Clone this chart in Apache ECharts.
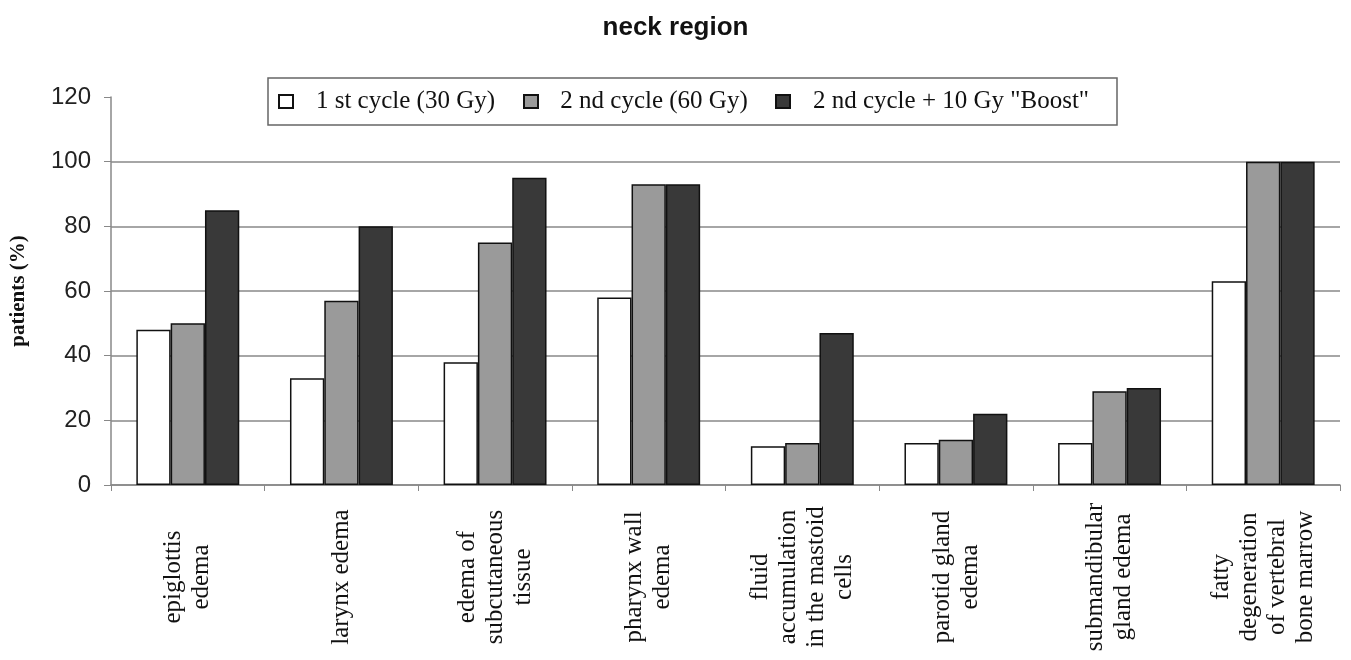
<!DOCTYPE html>
<html>
<head>
<meta charset="utf-8">
<script src="https://cdn.jsdelivr.net/npm/echarts@6/dist/echarts.min.js"></script>
<style>
  html, body { margin: 0; padding: 0; background: #fff; }
  #main { width: 1351px; height: 660px; }
</style>
</head>
<body>
<div id="main"></div>
<script>
var categories = [
  'epiglottis\nedema',
  'larynx edema',
  'edema of\nsubcutaneous\ntissue',
  'pharynx wall\nedema',
  'fluid\naccumulation\nin the mastoid\ncells',
  'parotid gland\nedema',
  'submandibular\ngland edema',
  'fatty\ndegeneration\nof vertebral\nbone marrow'
];
var seriesNames = ['1 st cycle (30 Gy)', '2 nd cycle (60 Gy)', '2 nd cycle + 10 Gy "Boost"'];
var firstCycle = [48, 33, 38, 58, 12, 13, 13, 63];
var secondCycle = [50, 57, 75, 93, 13, 14, 29, 100];
var boost = [85, 80, 95, 93, 47, 22, 30, 100];
var yTicks = [0, 20, 40, 60, 80, 100, 120];

var myChart = echarts.init(document.getElementById('main'));

var serif = '"Liberation Serif", "DejaVu Serif", serif';
var sans = '"Liberation Sans", Arial, sans-serif';

function bar(name, values, color) {
  return {
    name: name,
    type: 'bar',
    data: values,
    barGap: '0%',
    barCategoryGap: '33%',
    itemStyle: { color: color, borderColor: '#111', borderWidth: 1.5 }
  };
}

// legend slots sized like the original box
var legendRich = {};
[215, 222, 312].forEach(function (w, i) {
  legendRich['s' + i] = { width: w, align: 'center', fontFamily: serif, fontSize: 25, lineHeight: 25, color: '#111' };
});

var option = {
  animation: false,
  backgroundColor: '#fff',
  title: {
    text: 'neck region',
    left: 'center',
    top: 10,
    textStyle: { fontFamily: sans, fontSize: 26, fontWeight: 'bold', color: '#111' }
  },
  legend: {
    left: 268,
    top: 78,
    icon: 'rect',
    itemWidth: 14,
    itemHeight: 13,
    itemGap: 10,
    padding: [11, 10, 11, 10],
    borderColor: '#666',
    borderWidth: 1.5,
    formatter: function (name) {
      return '{s' + seriesNames.indexOf(name) + '|' + name + '}';
    },
    textStyle: { fontFamily: serif, fontSize: 25, color: '#111', rich: legendRich },
    data: seriesNames
  },
  grid: { left: 110, right: 11, top: 97, bottom: 175 },
  xAxis: {
    type: 'category',
    data: categories,
    axisLine: { lineStyle: { color: '#888', width: 1.5 } },
    axisTick: { show: true, length: 6, lineStyle: { color: '#888' } },
    axisLabel: {
      interval: 0,
      rotate: 90,
      align: 'center',
      verticalAlign: 'middle',
      margin: 92,
      lineHeight: 28,
      fontFamily: serif,
      fontSize: 25,
      color: '#111'
    }
  },
  yAxis: {
    type: 'value',
    min: yTicks[0],
    max: yTicks[yTicks.length - 1],
    interval: 20,
    name: 'patients (%)',
    nameLocation: 'middle',
    nameGap: 82,
    nameTextStyle: { fontFamily: serif, fontSize: 21, fontWeight: 'bold', color: '#111' },
    axisLine: { show: true, lineStyle: { color: '#888', width: 1.5 } },
    axisTick: { show: true, length: 7, lineStyle: { color: '#888' } },
    axisLabel: { fontFamily: sans, fontSize: 24, color: '#222', margin: 20 },
    splitLine: {
      show: true,
      lineStyle: { color: ['#888', '#888', '#888', '#888', '#888', '#888', 'rgba(0,0,0,0)'], width: 1.5 }
    }
  },
  series: [
    bar(seriesNames[0], firstCycle, '#ffffff'),
    bar(seriesNames[1], secondCycle, '#9a9a9a'),
    bar(seriesNames[2], boost, '#393939')
  ]
};

myChart.setOption(option);
</script>
</body>
</html>
